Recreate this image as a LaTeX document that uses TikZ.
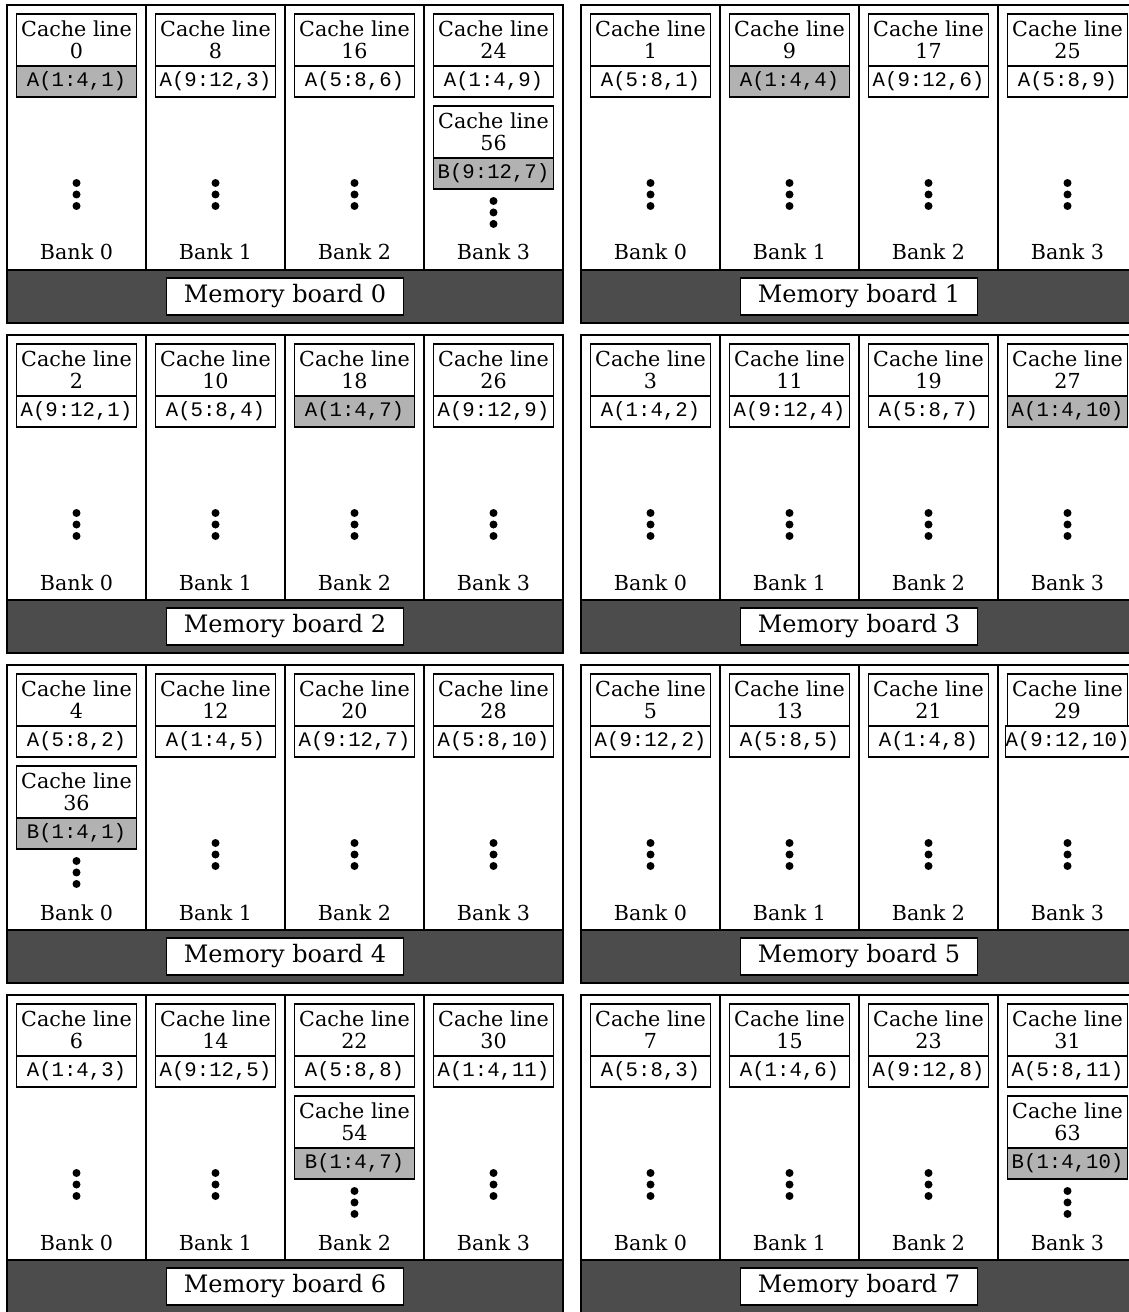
\documentclass[tikz,border=0pt]{standalone}
\usepackage{fontspec}
\setmainfont{DejaVu Serif}
\setmonofont{Liberation Mono}
\usetikzlibrary{positioning}

\begin{document}
\begin{tikzpicture}[
        x=0.75pt, y=-0.75pt,
        every node/.style={inner sep=0pt, outer sep=0pt},
        bankbox/.style={rectangle, draw, line width=0.9pt, minimum width=104.25pt, minimum height=198.75pt},
        barbox/.style={rectangle, draw, line width=0.9pt, fill=black!70, minimum width=417pt, minimum height=39.75pt},
        boardlabel/.style={rectangle, draw, line width=0.9pt, fill=white, minimum width=177.75pt, minimum height=27.75pt, font=\fontsize{18}{18}\selectfont},
        linebox/.style={rectangle, draw, line width=0.9pt, fill=white, minimum width=90pt, minimum height=39pt, align=center, font=\fontsize{15.5}{16.5}\selectfont},
        databox/.style={rectangle, draw, line width=0.9pt, fill=white, minimum width=90pt, minimum height=23.25pt, font=\fontsize{15.5}{15.5}\ttfamily},
        banklabel/.style={anchor=base, font=\fontsize{15.5}{15.5}\selectfont},
        dot/.style={circle, fill, minimum size=6pt}
    ]
    \useasboundingbox (0,0) rectangle (1128,1312);

    % Memory boards
    \foreach \b in {0,...,7} {
        \pgfmathtruncatemacro\ox{7+574*mod(\b,2)}
        \pgfmathtruncatemacro\oy{5+330*int(\b/2)}
        % Banks
        \foreach \k in {0,...,3} {
            \pgfmathsetmacro\cx{\ox+69.5+139*\k}
            \pgfmathtruncatemacro\n{\b+8*\k}
            \pgfmathtruncatemacro\col{int(\n/3)+1}
            \pgfmathtruncatemacro\lo{4*mod(\n,3)+1}
            \pgfmathtruncatemacro\hi{\lo+3}
            \pgfmathtruncatemacro\hasx{(10*\b+\k==3)||(10*\b+\k==40)||(10*\b+\k==62)||(10*\b+\k==73)}
            \ifnum\k=\b \def\fillc{black!30}\else\def\fillc{white}\fi
            \node[bankbox] (bank-\b-\k) at (\cx, \oy+132.5) {};
            \node[linebox] (cl-\b-\k) at (\cx, \oy+35) {Cache line\\\n};
            \node[databox, fill=\fillc, below=0pt of cl-\b-\k] (d-\b-\k) {A(\lo:\hi,\col)};
            \node[banklabel] (bl-\b-\k) at (\cx, \oy+255) {Bank \k};
            \ifnum\hasx=0
                \foreach \i in {0,1,2}
                    \node[dot] (dot-\b-\k-\i) at (\cx, \oy+178+11.5*\i) {};
            \fi
        }
        % Board bar
        \node[barbox] (bar-\b) at (\ox+278, \oy+291.5) {};
        \node[boardlabel] (board-\b) at (bar-\b) {Memory board \b};
    }

    % Lines of B
    \foreach \b/\k/\n/\txt in {0/3/56/{B(9:12,7)}, 4/0/36/{B(1:4,1)}, 6/2/54/{B(1:4,7)}, 7/3/63/{B(1:4,10)}} {
        \node[linebox, below=6.75pt of d-\b-\k] (xcl-\b-\k) {Cache line\\\n};
        \node[databox, fill=black!30, below=0pt of xcl-\b-\k] (xd-\b-\k) {\txt};
        \node[dot, below=6pt of xd-\b-\k] (xdot-\b-\k-0) {};
        \node[dot, below=2.6pt of xdot-\b-\k-0] (xdot-\b-\k-1) {};
        \node[dot, below=2.6pt of xdot-\b-\k-1] (xdot-\b-\k-2) {};
    }
\end{tikzpicture}
\end{document}
